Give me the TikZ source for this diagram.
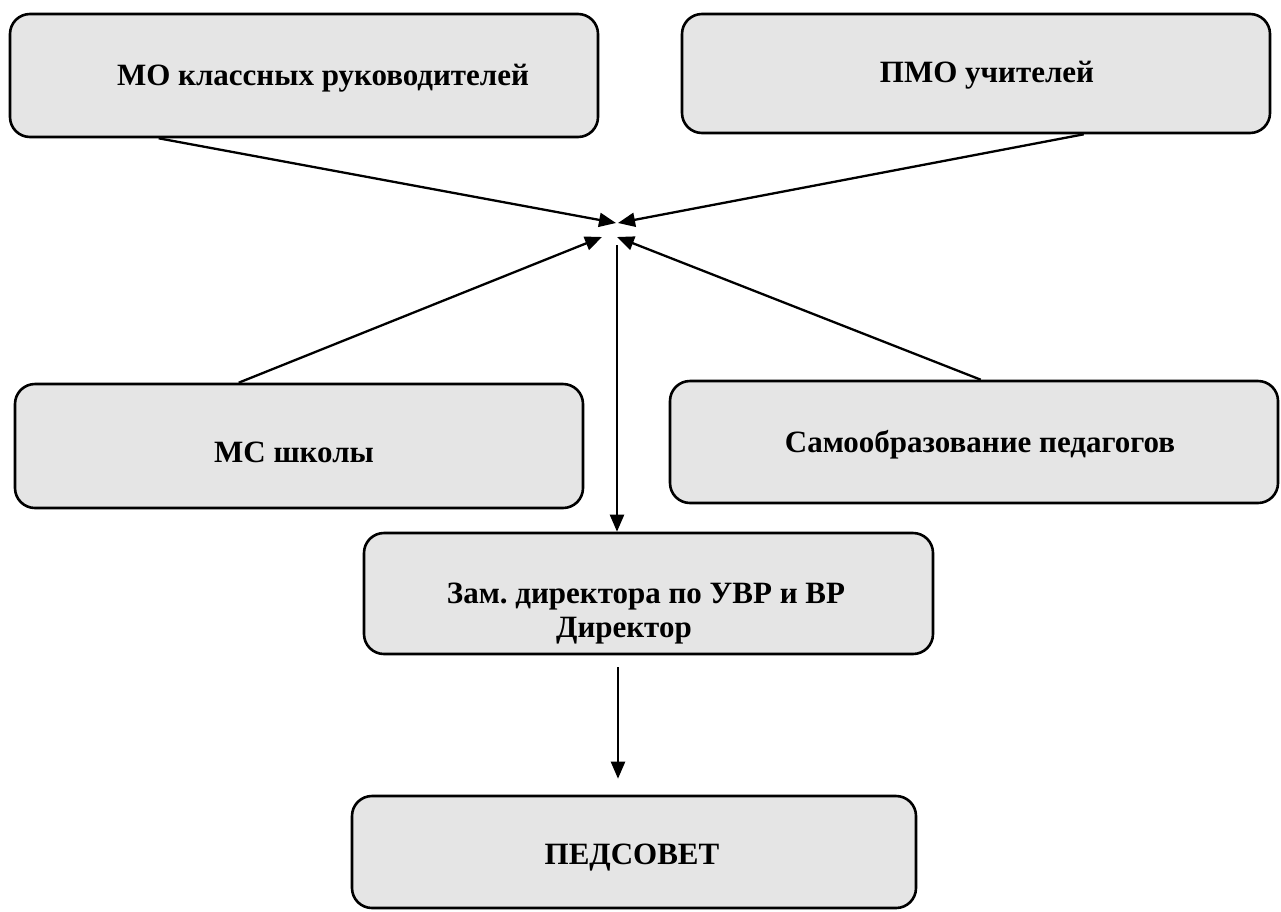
\documentclass[tikz,border=0pt]{standalone}
\usepackage{fontspec}
\setmainfont{Liberation Serif}
\usetikzlibrary{arrows.meta,calc}
\frenchspacing
\begin{document}
\begin{tikzpicture}[x=1pt,y=-1pt,
  box/.style={draw=black, line width=2.6pt, rounded corners=20pt, fill=black!10, inner sep=0pt},
  txt/.style={inner sep=0pt, align=center, font=\fontsize{31}{34}\selectfont\bfseries},
  arr/.style={line width=2.3pt, -{Triangle[length=17pt,width=14pt]}}]
\useasboundingbox (0,0) rectangle (1281,911);
\fill[white] (0,0) rectangle (1281,911);
\node[box, minimum width=588pt, minimum height=123pt] (b1) at (304,75.5) {};
\node[box, minimum width=588pt, minimum height=119pt] (b2) at (976,73.5) {};
\node[box, minimum width=568pt, minimum height=124pt] (b3) at (299,446) {};
\node[box, minimum width=608pt, minimum height=122pt] (b4) at (974,442) {};
\node[box, minimum width=569pt, minimum height=121pt] (b5) at (648.5,593.5) {};
\node[box, minimum width=564pt, minimum height=112pt] (b6) at (634,852) {};
\node[txt] (t1) at (323,78) {МО классных руководителей};
\node[txt] (t2) at (987,75) {ПМО учителей};
\node[txt] (t3) at (294,452) {МС школы};
\node[txt] (t4) at (980,445) {Самообразование педагогов};
\node[txt] (t5) at (646,614) {Зам. директора по УВР и ВР\\\hspace*{-44pt}Директор};
\node[txt] (t6) at (632,858) {ПЕДСОВЕТ};
\coordinate (h1) at (616,223);
\coordinate (h2) at (618,223);
\coordinate (h3) at (602,237);
\coordinate (h4) at (617,237);
\coordinate (h5) at (617,245);
\draw[arr] ([xshift=150pt]b1.south west) -- (h1);
\draw[arr] ([xshift=403pt]b2.south west) -- (h2);
\draw[arr] ([xshift=225pt]b3.north west) -- (h3);
\draw[arr] ([xshift=312pt]b4.north west) -- (h4);
\draw[arr] (h5) -- (h5 |- b5.north);
\draw[arr, shorten <=12pt, shorten >=16pt] ([xshift=-30.5pt]b5.south) -- ([xshift=-30.5pt]b5.south |- b6.north);
\end{tikzpicture}
\end{document}
